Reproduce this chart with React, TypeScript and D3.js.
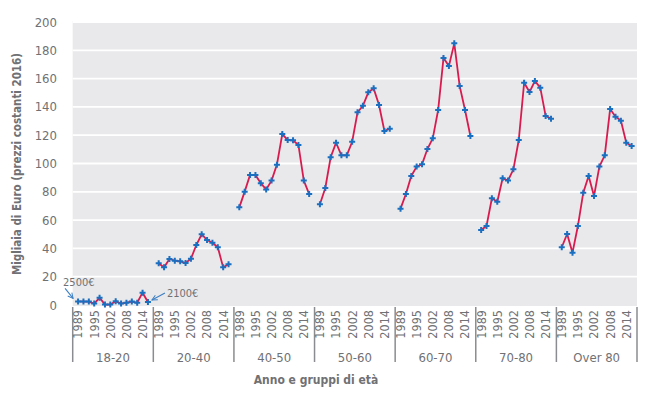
import * as d3 from "d3";
import { useEffect, useRef } from "react";

// age groups on the outer axis
const groups = ["18-20", "20-40", "40-50", "50-60", "60-70", "70-80", "Over 80"];

// survey years on the inner axis
const years = [1989, 1991, 1993, 1995, 1998, 2000, 2002, 2004, 2006, 2008, 2010, 2012, 2014, 2016];
const yearLabels = [1989, 1995, 2002, 2008, 2014];

// values in thousands of euro, one array per age group
const age18_20 = [2.5, 2.4, 2.4, 1.0, 5.2, 0.3, 0.3, 2.6, 1.0, 1.6, 2.4, 1.6, 8.7, 2.1];
const age20_40 = [29.5, 26.6, 32.5, 31.3, 30.9, 29.7, 32.7, 42.4, 50.0, 45.9, 44.0, 40.8, 26.6, 28.8];
const age40_50 = [69.0, 80.1, 91.9, 91.9, 86.0, 81.7, 87.9, 99.2, 120.8, 116.6, 116.4, 113.1, 87.9, 78.4];
const age50_60 = [71.2, 82.7, 104.4, 114.7, 105.8, 105.8, 115.4, 136.2, 140.8, 150.3, 153.1, 141.3, 123.0, 124.6];
const age60_70 = [68.1, 78.4, 91.2, 97.8, 99.4, 110.2, 117.8, 137.8, 174.6, 168.9, 184.9, 154.8, 137.8, 119.4];
const age70_80 = [53.0, 55.8, 75.4, 73.0, 89.5, 87.9, 95.9, 116.6, 157.1, 150.5, 158.3, 153.6, 133.6, 131.7];
const over80 = [40.8, 50.2, 37.0, 55.8, 79.4, 91.2, 77.0, 97.8, 105.8, 138.5, 133.1, 130.3, 114.7, 112.4];

const series = [age18_20, age20_40, age40_50, age50_60, age60_70, age70_80, over80];

const yTicks = [0, 20, 40, 60, 80, 100, 120, 140, 160, 180, 200];

const FONT = "'DejaVu Sans Condensed', 'Liberation Sans Narrow', 'DejaVu Sans', sans-serif";
const GREY = "#707174";

function App() {
  const ref = useRef<SVGSVGElement>(null);

  useEffect(() => {
    const svg = d3.select(ref.current);
    svg.selectAll("*").remove();

    const left = 72.7;
    const right = 637;
    const top = 22;
    const bottom = 305;

    // scales: outer band per age group, inner point per year
    const xGroup = d3.scaleBand().domain(groups).range([left, right]).padding(0);
    const xYear = d3
      .scalePoint<number>()
      .domain(years)
      .range([0, xGroup.bandwidth()])
      .padding(1);
    const yScale = d3.scaleLinear().domain([0, 200]).range([bottom, top]);

    // plot background
    svg
      .append("rect")
      .attr("x", left)
      .attr("y", top - 1)
      .attr("width", right - left)
      .attr("height", bottom - top + 2)
      .attr("fill", "#e9e9eb");

    // horizontal grid
    svg
      .append("g")
      .selectAll("line")
      .data(yTicks.filter((t) => t > 0))
      .join("line")
      .attr("x1", left)
      .attr("x2", right)
      .attr("y1", (d) => yScale(d))
      .attr("y2", (d) => yScale(d))
      .attr("stroke", "#fff")
      .attr("stroke-width", 1.8);

    // y tick labels
    svg
      .append("g")
      .selectAll("text")
      .data(yTicks)
      .join("text")
      .attr("x", 57)
      .attr("y", (d) => yScale(d))
      .attr("dy", "0.35em")
      .attr("text-anchor", "end")
      .attr("font-size", 13)
      .attr("font-family", FONT)
      .attr("fill", GREY)
      .text((d) => d);

    // y title
    svg
      .append("text")
      .attr("transform", `translate(17,164) rotate(-90)`)
      .attr("dy", "0.35em")
      .attr("text-anchor", "middle")
      .attr("font-size", 11.5)
      .attr("font-weight", "bold")
      .attr("font-family", FONT)
      .attr("fill", GREY)
      .text("Migliaia di Euro (prezzi costanti 2016)");

    // group separators
    const bounds = groups.map((g) => xGroup(g)!).concat([right]);
    svg
      .append("g")
      .selectAll("line")
      .data(bounds)
      .join("line")
      .attr("x1", (d) => d)
      .attr("x2", (d) => d)
      .attr("y1", 307)
      .attr("y2", 362)
      .attr("stroke", "#8b8c8f")
      .attr("stroke-width", 1.5);

    const line = d3
      .line<number>()
      .x((d, i) => xYear(years[i])!)
      .y((d) => yScale(d));

    groups.forEach((g, gi) => {
      const gx = xGroup(g)!;
      const grp = svg.append("g").attr("transform", `translate(${gx},0)`);

      // year labels
      grp
        .selectAll("text.year")
        .data(yearLabels)
        .join("text")
        .attr("class", "year")
        .attr("transform", (d) => `translate(${xYear(d)},310) rotate(-90)`)
        .attr("dy", "0.35em")
        .attr("text-anchor", "end")
        .attr("font-size", 12.5)
        .attr("font-family", FONT)
        .attr("fill", GREY)
        .text((d) => d);

      // group label
      grp
        .append("text")
        .attr("x", xGroup.bandwidth() / 2)
        .attr("y", 357)
        .attr("dy", "0.35em")
        .attr("text-anchor", "middle")
        .attr("font-size", 13)
        .attr("font-family", FONT)
        .attr("fill", GREY)
        .text(g);

      grp
        .append("path")
        .datum(series[gi])
        .attr("fill", "none")
        .attr("stroke", "#d81b4f")
        .attr("stroke-width", 1.8)
        .attr("d", line);

      grp
        .selectAll("path.pt")
        .data(series[gi])
        .join("path")
        .attr("class", "pt")
        .attr("transform", (d, i) => `translate(${xYear(years[i])},${yScale(d)})`)
        .attr("d", d3.symbol().type(d3.symbolCross).size(20)())
        .attr("fill", "#1b6fc0");
    });

    // x title
    svg
      .append("text")
      .attr("x", 316)
      .attr("y", 380)
      .attr("dy", "0.35em")
      .attr("text-anchor", "middle")
      .attr("font-size", 12)
      .attr("font-weight", "bold")
      .attr("font-family", FONT)
      .attr("fill", GREY)
      .text("Anno e gruppi di età");

    // annotations for the first and last 18-20 values
    const g0 = xGroup(groups[0])!;
    const firstX = g0 + xYear(years[0])!;
    const firstY = yScale(age18_20[0]);
    const lastX = g0 + xYear(years[years.length - 1])!;
    const lastY = yScale(age18_20[age18_20.length - 1]);

    svg
      .append("defs")
      .append("marker")
      .attr("id", "arr")
      .attr("viewBox", "0 0 10 10")
      .attr("refX", 9)
      .attr("refY", 5)
      .attr("markerWidth", 6)
      .attr("markerHeight", 6)
      .attr("orient", "auto")
      .append("path")
      .attr("d", "M1,1 L9,5 L1,9")
      .attr("fill", "none")
      .attr("stroke", "#3b7fc4")
      .attr("stroke-width", 1.5);

    svg
      .append("line")
      .attr("x1", firstX - 13)
      .attr("y1", firstY - 13)
      .attr("x2", firstX - 5)
      .attr("y2", firstY - 3)
      .attr("stroke", "#3b7fc4")
      .attr("stroke-width", 1.1)
      .attr("marker-end", "url(#arr)");

    svg
      .append("text")
      .attr("x", firstX - 15)
      .attr("y", firstY - 19)
      .attr("dy", "0.35em")
      .attr("font-size", 11)
      .attr("font-family", FONT)
      .attr("fill", GREY)
      .text("2500€");

    svg
      .append("line")
      .attr("x1", lastX + 17)
      .attr("y1", lastY - 9)
      .attr("x2", lastX + 4)
      .attr("y2", lastY - 2)
      .attr("stroke", "#3b7fc4")
      .attr("stroke-width", 1.1)
      .attr("marker-end", "url(#arr)");

    svg
      .append("text")
      .attr("x", lastX + 19)
      .attr("y", lastY - 9)
      .attr("dy", "0.35em")
      .attr("font-size", 11)
      .attr("font-family", FONT)
      .attr("fill", GREY)
      .text("2100€");
  }, []);

  return (
    <svg
      ref={ref}
      width={660}
      height={399}
      style={{ position: "absolute", left: 0, top: 0, background: "#fff" }}
    />
  );
}

export default App;
